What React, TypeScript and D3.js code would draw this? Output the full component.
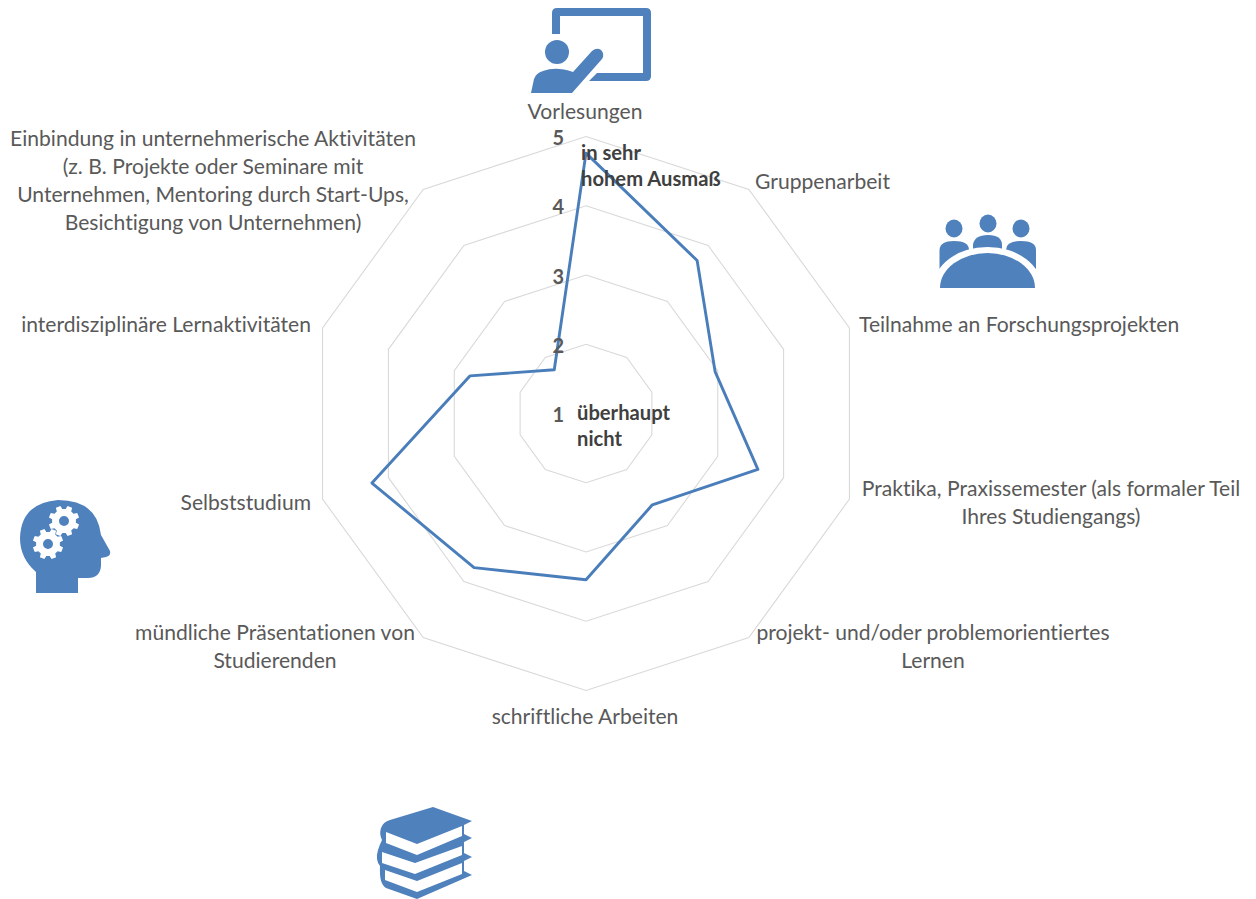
import React from 'react';
import * as d3 from 'd3';

const categories = [
  'Vorlesungen',
  'Gruppenarbeit',
  'Teilnahme an Forschungsprojekten',
  'Praktika, Praxissemester (als formaler Teil Ihres Studiengangs)',
  'projekt- und/oder problemorientiertes Lernen',
  'schriftliche Arbeiten',
  'mündliche Präsentationen von Studierenden',
  'Selbststudium',
  'interdisziplinäre Lernaktivitäten',
  'Einbindung in unternehmerische Aktivitäten (z. B. Projekte oder Seminare mit Unternehmen, Mentoring durch Start-Ups, Besichtigung von Unternehmen)',
];
const values = [4.76, 3.73, 2.96, 3.61, 2.63, 3.4, 3.75, 4.25, 2.76, 1.78];
const levels = [1, 2, 3, 4, 5];

// where each category label sits, with its wrapped lines
const labelLayout = [
  { x: 585, y: 110, anchor: 'middle', lines: ['Vorlesungen'] },
  { x: 755, y: 180, anchor: 'start', lines: ['Gruppenarbeit'] },
  { x: 859, y: 323, anchor: 'start', lines: ['Teilnahme an Forschungsprojekten'] },
  { x: 1051, y: 487, anchor: 'middle', lines: ['Praktika, Praxissemester (als formaler Teil', 'Ihres Studiengangs)'] },
  { x: 933, y: 631, anchor: 'middle', lines: ['projekt- und/oder problemorientiertes', 'Lernen'] },
  { x: 585, y: 715, anchor: 'middle', lines: ['schriftliche Arbeiten'] },
  { x: 275, y: 631, anchor: 'middle', lines: ['mündliche Präsentationen von', 'Studierenden'] },
  { x: 311, y: 501, anchor: 'end', lines: ['Selbststudium'] },
  { x: 311, y: 323, anchor: 'end', lines: ['interdisziplinäre Lernaktivitäten'] },
  { x: 213, y: 137, anchor: 'middle', lines: ['Einbindung in unternehmerische Aktivitäten', '(z. B. Projekte oder Seminare mit', 'Unternehmen, Mentoring durch Start-Ups,', 'Besichtigung von Unternehmen)'] },
];

const cx = 586;
const cy = 413.5;
const FONT = 'Lato, "Open Sans", sans-serif';
const BLUE = '#4f81bd';
const TEXT = '#595959';

const r = d3.scaleLinear().domain([1, 5]).range([0, 277]);
const angle = d3.scalePoint<number>().domain(d3.range(categories.length + 1)).range([0, 2 * Math.PI]);

const radial = d3.lineRadial<number>()
  .angle((_, i) => angle(i) as number)
  .radius((d) => r(d))
  .curve(d3.curveLinearClosed);

// cog outline for the head icon
function gearPath(gx: number, gy: number, outer: number, inner: number, hole: number) {
  const teeth = 8;
  const step = (2 * Math.PI) / teeth;
  const pts: string[] = [];
  for (let i = 0; i < teeth; i++) {
    const a = i * step + step / 2;
    [[-0.32, inner], [-0.2, outer], [0.2, outer], [0.32, inner]].forEach(([f, rad]) => {
      const t = a + f * step;
      pts.push(`${gx + rad * Math.cos(t)},${gy + rad * Math.sin(t)}`);
    });
  }
  const ring = `M${pts.join('L')}Z`;
  const circle = `M${gx - hole},${gy}a${hole},${hole} 0 1,0 ${hole * 2},0a${hole},${hole} 0 1,0 ${-hole * 2},0Z`;
  return ring + circle;
}

const TeacherIcon = () => (
  <g fill={BLUE}>
    <path d="M552,34V13Q552,8 557,8H646Q651,8 651,13V76Q651,81 646,81H589L597,73H643V16H560V34Z" />
    <circle cx={557} cy={52} r={12} />
    <path d="M531,93L534,79Q536,73 543,71Q556,66 573,72L592,51Q597,47 601,50Q605,54 602,59L572,93Z" />
  </g>
);

const GroupIcon = () => (
  <g fill={BLUE}>
    <ellipse cx={954} cy={228.5} rx={8.5} ry={9} />
    <ellipse cx={988} cy={223.5} rx={8.5} ry={9} />
    <ellipse cx={1021} cy={228.5} rx={8.5} ry={9} />
    <path d="M939.5,275V250Q940,241 954,241Q969,241 969,250V275Z" />
    <path d="M973,255V245Q974,235 988,235Q1002,235 1002,245V255Z" />
    <path d="M1006,275V250Q1006,241 1021,241Q1036,241 1036,250V275Z" />
    <path d="M933,288A54.5,41 0 0,1 1042,288Z" fill="#fff" />
    <path d="M940,288A47.5,35 0 0,1 1035,288Z" />
  </g>
);

const HeadIcon = () => (
  <g>
    <path
      fill={BLUE}
      d="M36,593V572Q20,558 20,538Q21,503 58,500Q97,500 101,535L110,551Q111,556 106,557L101,558V566Q100,578 88,578H78V593Z"
    />
    <path fill="#fff" fillRule="evenodd" d={gearPath(64, 521, 15.5, 12, 5)} />
    <path fill="#fff" fillRule="evenodd" d={gearPath(48, 544, 15.5, 12, 5)} />
  </g>
);

const BooksIcon = () => (
  <g>
    <path
      fill={BLUE}
      d="M433,807L472,821L464,825V834L472,838L464,842V853L472,857L464,861V871L472,875L417,899L386,888Q379,884 380,866Q375,860 378,850Q380,844 382,840Q379,834 381,828Q383,822 390,820Z"
    />
    <path fill="#fff" d="M386,832L417,844L462,826V836L417,855L386,843Z" />
    <path fill="#fff" d="M382,852L415,863L462,846V855L415,874L382,863Z" />
    <path fill="#fff" d="M385,870L417,881L462,863V874L417,892L385,880Z" />
  </g>
);

export default function App() {
  return (
    <svg
      width={1256}
      height={899}
      style={{ position: 'absolute', left: 0, top: 0, display: 'block', background: '#fff', fontVariantLigatures: 'none' }}
      fontFamily={FONT}
    >
      <g transform={`translate(${cx},${cy})`}>
        {levels.slice(1).map((lv) => (
          <path
            key={lv}
            d={radial(categories.map(() => lv)) as string}
            fill="none"
            stroke="#d9d9d9"
            strokeWidth={1.1}
          />
        ))}
        <path d={radial(values) as string} fill="none" stroke="#4a7ebb" strokeWidth={2.9} strokeLinejoin="round" />
        {levels.map((lv) => (
          <text
            key={lv}
            x={-22}
            y={-r(lv) + 0.5}
            textAnchor="end"
            dominantBaseline="central"
            fontSize={20}
            fontWeight={700}
            fill={TEXT}
          >
            {lv}
          </text>
        ))}
      </g>

      {labelLayout.map((l, i) => (
        <text key={categories[i]} textAnchor={l.anchor} fontSize={21.1} fill={TEXT}>
          {l.lines.map((line, j) => (
            <tspan key={j} x={l.x} y={l.y + j * 28.3} dominantBaseline="central">
              {line}
            </tspan>
          ))}
        </text>
      ))}

      <g fontSize={20.2} fontWeight={700} fill="#404040">
        <text x={581} y={152} dominantBaseline="central">in sehr</text>
        <text x={581} y={178} dominantBaseline="central">hohem Ausmaß</text>
        <text x={577} y={412} dominantBaseline="central">überhaupt</text>
        <text x={577} y={438} dominantBaseline="central">nicht</text>
      </g>

      <TeacherIcon />
      <GroupIcon />
      <HeadIcon />
      <BooksIcon />
    </svg>
  );
}
